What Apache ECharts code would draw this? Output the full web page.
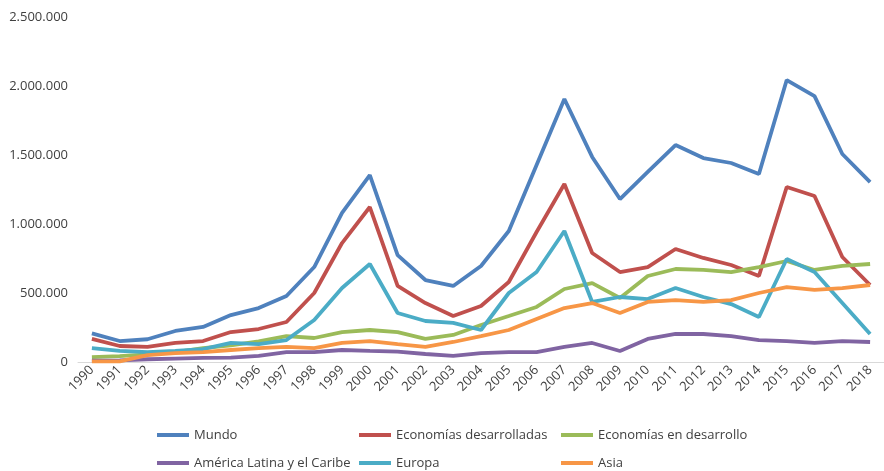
<!DOCTYPE html>
<html>
<head>
<meta charset="utf-8">
<script src="https://cdn.jsdelivr.net/npm/echarts@6/dist/echarts.min.js"></script>
<style>html,body{margin:0;padding:0;background:#fff}#c{width:884px;height:471px}</style>
</head>
<body>
<div id="c"></div>
<script>
const years = ['1990','1991','1992','1993','1994','1995','1996','1997','1998','1999','2000','2001','2002','2003','2004','2005','2006','2007','2008','2009','2010','2011','2012','2013','2014','2015','2016','2017','2018'];
const mundo = [207000,152000,165000,225000,254000,340000,391000,478000,688000,1080000,1355000,775000,594000,551000,696000,949000,1427000,1906000,1486000,1181000,1377000,1572000,1478000,1442000,1362000,2043000,1927000,1507000,1304000];
const desarrolladas = [167000,116000,109000,138000,152000,217000,239000,290000,500000,862000,1123000,551000,427000,333000,406000,580000,942000,1290000,790000,652000,688000,819000,754000,703000,623000,1268000,1203000,761000,558000];
const enDesarrollo = [36000,43000,55000,72000,101000,120000,150000,188000,174000,217000,232000,217000,167000,196000,268000,333000,399000,529000,572000,464000,623000,674000,667000,652000,688000,732000,667000,696000,710000];
const americaLatina = [10000,12000,20000,25000,30000,32000,45000,72000,72000,87000,80000,75000,58000,45000,65000,72000,72000,109000,138000,80000,167000,203000,203000,188000,159000,152000,138000,152000,145000];
const europa = [101000,80000,72000,80000,94000,138000,130000,159000,304000,536000,710000,355000,297000,283000,232000,500000,652000,949000,435000,471000,456000,536000,471000,420000,326000,746000,652000,427000,203000];
const asia = [5000,5000,50000,65000,72000,87000,101000,109000,101000,138000,152000,130000,109000,145000,188000,232000,312000,391000,427000,355000,435000,449000,435000,449000,500000,543000,522000,536000,558000];

const names = ['Mundo','Economías desarrolladas','Economías en desarrollo','América Latina y el Caribe','Europa','Asia'];
const colors = ['#4F81BD','#C0504D','#9BBB59','#8064A2','#4BACC6','#F79646'];
const datasets = [mundo, desarrolladas, enDesarrollo, americaLatina, europa, asia];

const font = 'Open Sans';
const chart = echarts.init(document.getElementById('c'), null, {renderer:'canvas'});
chart.setOption({
  animation: false,
  color: colors,
  grid: {left: 78, right: -8, top: 17, bottom: 109, containLabel: false},
  xAxis: {
    type: 'category',
    data: years,
    boundaryGap: true,
    axisLine: {lineStyle: {color: '#D9D9D9', width: 1}},
    axisTick: {show: false},
    axisLabel: {rotate: 45, interval: 0, color: '#404040', fontFamily: font, fontSize: 13, margin: 6}
  },
  yAxis: {
    type: 'value',
    min: 0, max: 2500000, interval: 500000,
    splitLine: {show: false},
    axisLine: {show: false},
    axisTick: {show: false},
    axisLabel: {
      color: '#404040', fontFamily: font, fontSize: 13, margin: 10,
      formatter: v => v.toString().replace(/\B(?=(\d{3})+(?!\d))/g, '.')
    }
  },
  legend: {
    left: 152, top: 416, width: 640,
    itemWidth: 32, itemHeight: 4, itemGap: 0,
    icon: 'rect',
    textStyle: {color: '#404040', fontFamily: font, fontSize: 13, width: 165, lineHeight: 28},
    data: names
  },
  series: names.map((n, i) => ({
    name: n, type: 'line', data: datasets[i],
    showSymbol: false, symbol: 'none',
    lineStyle: {width: 3.8, color: colors[i]},
    itemStyle: {color: colors[i]}
  }))
});
</script>
</body>
</html>
